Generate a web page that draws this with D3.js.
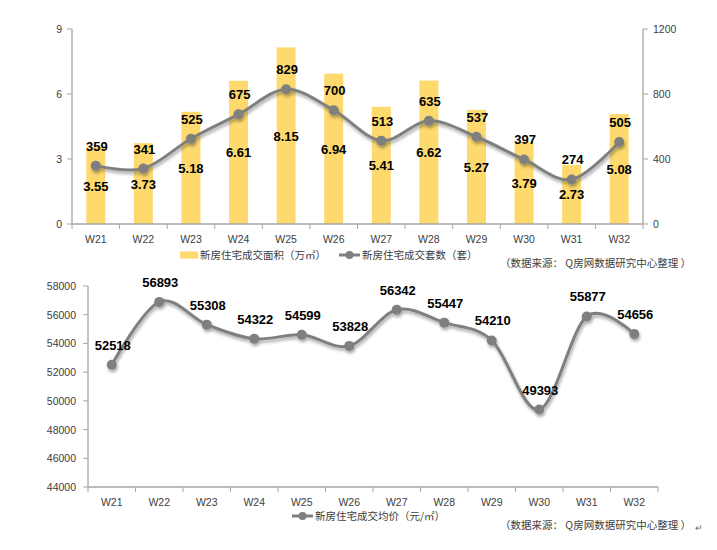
<!DOCTYPE html>
<html><head><meta charset="utf-8">
<script src="https://cdn.jsdelivr.net/npm/d3@7"></script>
<style>body{margin:0;background:#fff}svg{display:block}</style>
</head><body>
<svg id="c" width="717" height="550"></svg>
<script>
const weeks = ["W21","W22","W23","W24","W25","W26","W27","W28","W29","W30","W31","W32"];
const areaValues = [3.55,3.73,5.18,6.61,8.15,6.94,5.41,6.62,5.27,3.79,2.73,5.08];
const countValues = [359,341,525,675,829,700,513,635,537,397,274,505];
const priceValues = [52518,56893,55308,54322,54599,53828,56342,55447,54210,49393,55877,54656];
const leftTicks = [0,3,6,9];
const rightTicks = [0,400,800,1200];
const priceTicks = [44000,46000,48000,50000,52000,54000,56000,58000];
const legendTop = ["新房住宅成交面积（万㎡）","新房住宅成交套数（套）"];
const legendBottom = "新房住宅成交均价（元/㎡）";
const sourceText = "（数据来源： Q房网数据研究中心整理 ）";

const svg = d3.select("#c");
const FONT = "'Liberation Sans', Arial, sans-serif";
const CJK = "'Noto Sans CJK SC', 'Liberation Sans', sans-serif";
const AXIS = "#a6a6a6", TXT = "#404040", LINE = "#7f7f7f", BAR = "#fdd96e";

const defs = svg.append("defs");
const f = defs.append("filter").attr("id","sh").attr("x","-10%").attr("y","-20%").attr("width","130%").attr("height","160%");
f.append("feDropShadow").attr("dx",1).attr("dy",2.5).attr("stdDeviation",1.5).attr("flood-color","#000").attr("flood-opacity",0.35);

function xAxis(g, x, y0, x0, x1) {
  g.append("line").attr("x1",x0).attr("x2",x1).attr("y1",y0).attr("y2",y0).attr("stroke",AXIS).attr("stroke-width",1.3);
  const step = x.step();
  for (let i = 0; i <= weeks.length; i++) {
    const xx = x0 + i*step;
    g.append("line").attr("x1",xx).attr("x2",xx).attr("y1",y0).attr("y2",y0+5).attr("stroke",AXIS).attr("stroke-width",1);
  }
  g.selectAll("text.xl").data(weeks).join("text").attr("class","xl")
    .attr("x",d=>x(d)+x.bandwidth()/2).attr("y",y0+19).attr("text-anchor","middle")
    .attr("font-family",FONT).attr("font-size",10.5).attr("fill",TXT).text(d=>d);
}

// ---------- Top chart ----------
{
  const x0 = 72, x1 = 643, yb = 224, yt = 29;
  const x = d3.scaleBand().domain(weeks).range([x0,x1]).paddingInner(0).paddingOuter(0);
  const yL = d3.scaleLinear().domain([0,9]).range([yb,yt]);
  const yR = d3.scaleLinear().domain([0,1200]).range([yb,yt]);
  const g = svg.append("g");
  // left axis
  g.append("line").attr("x1",x0).attr("x2",x0).attr("y1",yt).attr("y2",yb).attr("stroke",AXIS).attr("stroke-width",1.3);
  leftTicks.forEach(t=>{
    g.append("line").attr("x1",x0-5).attr("x2",x0).attr("y1",yL(t)).attr("y2",yL(t)).attr("stroke",AXIS);
    g.append("text").attr("x",x0-10).attr("y",yL(t)+4).attr("text-anchor","end").attr("font-family",FONT).attr("font-size",10.5).attr("fill",TXT).text(t);
  });
  g.append("line").attr("x1",x1).attr("x2",x1).attr("y1",yt).attr("y2",yb).attr("stroke",AXIS).attr("stroke-width",1.3);
  rightTicks.forEach(t=>{
    g.append("line").attr("x1",x1).attr("x2",x1+5).attr("y1",yR(t)).attr("y2",yR(t)).attr("stroke",AXIS);
    g.append("text").attr("x",x1+10).attr("y",yR(t)+4).attr("text-anchor","start").attr("font-family",FONT).attr("font-size",10.5).attr("fill",TXT).text(t);
  });
  const bw = 19;
  g.selectAll("rect.bar").data(areaValues).join("rect").attr("class","bar")
    .attr("x",(d,i)=>x(weeks[i])+x.bandwidth()/2-bw/2).attr("width",bw)
    .attr("y",d=>yL(d)).attr("height",d=>yb-yL(d)).attr("fill",BAR);
  xAxis(g, x, yb, x0, x1);
  const line = d3.line().x((d,i)=>x(weeks[i])+x.bandwidth()/2).y(d=>yR(d)).curve(d3.curveCardinal.tension(0));
  const lg = g.append("g").attr("filter","url(#sh)");
  lg.append("path").datum(countValues).attr("d",line).attr("fill","none").attr("stroke",LINE).attr("stroke-width",3);
  lg.selectAll("circle").data(countValues).join("circle").attr("cx",(d,i)=>x(weeks[i])+x.bandwidth()/2).attr("cy",d=>yR(d)).attr("r",5).attr("fill",LINE);
  g.selectAll("text.al").data(areaValues).join("text").attr("class","al")
    .attr("x",(d,i)=>x(weeks[i])+x.bandwidth()/2).attr("y",d=>(yL(d)+yb)/2+5)
    .attr("text-anchor","middle").attr("font-family",FONT).attr("font-weight","bold").attr("font-size",13).attr("fill","#000").text(d=>d.toFixed(2));
  g.selectAll("text.cl").data(countValues).join("text").attr("class","cl")
    .attr("x",(d,i)=>x(weeks[i])+x.bandwidth()/2+1).attr("y",d=>yR(d)-15)
    .attr("text-anchor","middle").attr("font-family",FONT).attr("font-weight","bold").attr("font-size",13).attr("fill","#000").text(d=>d);
  // legend
  const ly = 255;
  g.append("rect").attr("x",180).attr("y",ly-3.5).attr("width",18).attr("height",7).attr("fill",BAR);
  g.append("text").attr("x",200).attr("y",ly+4).attr("font-family",CJK).attr("font-size",10.5).attr("fill",TXT).text(legendTop[0]);
  g.append("line").attr("x1",339).attr("x2",360).attr("y1",ly).attr("y2",ly).attr("stroke",LINE).attr("stroke-width",3);
  g.append("circle").attr("cx",349.5).attr("cy",ly).attr("r",4).attr("fill",LINE);
  g.append("text").attr("x",362).attr("y",ly+4).attr("font-family",CJK).attr("font-size",10.5).attr("fill",TXT).text(legendTop[1]);
  g.append("text").attr("x",500).attr("y",267).attr("font-family",CJK).attr("font-size",10.5).attr("fill",TXT).text(sourceText);
}

// ---------- Bottom chart ----------
{
  const x0 = 88, x1 = 658, yb = 487, yt = 286;
  const x = d3.scaleBand().domain(weeks).range([x0,x1]);
  const y = d3.scaleLinear().domain([44000,58000]).range([yb,yt]);
  const g = svg.append("g");
  g.append("line").attr("x1",x0).attr("x2",x0).attr("y1",yt).attr("y2",yb).attr("stroke",AXIS).attr("stroke-width",1.3);
  priceTicks.forEach(t=>{
    g.append("line").attr("x1",x0-5).attr("x2",x0).attr("y1",y(t)).attr("y2",y(t)).attr("stroke",AXIS);
    g.append("text").attr("x",x0-12).attr("y",y(t)+4).attr("text-anchor","end").attr("font-family",FONT).attr("font-size",10.5).attr("fill",TXT).text(t);
  });
  xAxis(g, x, yb, x0, x1);
  const line = d3.line().x((d,i)=>x(weeks[i])+x.bandwidth()/2).y(d=>y(d)).curve(d3.curveCardinal.tension(0));
  const lg = g.append("g").attr("filter","url(#sh)");
  lg.append("path").datum(priceValues).attr("d",line).attr("fill","none").attr("stroke",LINE).attr("stroke-width",3);
  lg.selectAll("circle").data(priceValues).join("circle").attr("cx",(d,i)=>x(weeks[i])+x.bandwidth()/2).attr("cy",d=>y(d)).attr("r",5).attr("fill",LINE);
  g.selectAll("text.pl").data(priceValues).join("text").attr("class","pl")
    .attr("x",(d,i)=>x(weeks[i])+x.bandwidth()/2+1).attr("y",d=>y(d)-15)
    .attr("text-anchor","middle").attr("font-family",FONT).attr("font-weight","bold").attr("font-size",13).attr("fill","#000").text(d=>d);
  const ly = 516;
  g.append("line").attr("x1",292).attr("x2",313).attr("y1",ly).attr("y2",ly).attr("stroke",LINE).attr("stroke-width",3);
  g.append("circle").attr("cx",302.5).attr("cy",ly).attr("r",4).attr("fill",LINE);
  g.append("text").attr("x",315).attr("y",ly+4).attr("font-family",CJK).attr("font-size",10.5).attr("fill",TXT).text(legendBottom);
  g.append("text").attr("x",500).attr("y",529).attr("font-family",CJK).attr("font-size",10.5).attr("fill",TXT).text(sourceText);
  g.append("text").attr("x",695).attr("y",531).attr("font-family",CJK).attr("font-size",9).attr("fill","#666").text("↵");
}
</script>
</body></html>
